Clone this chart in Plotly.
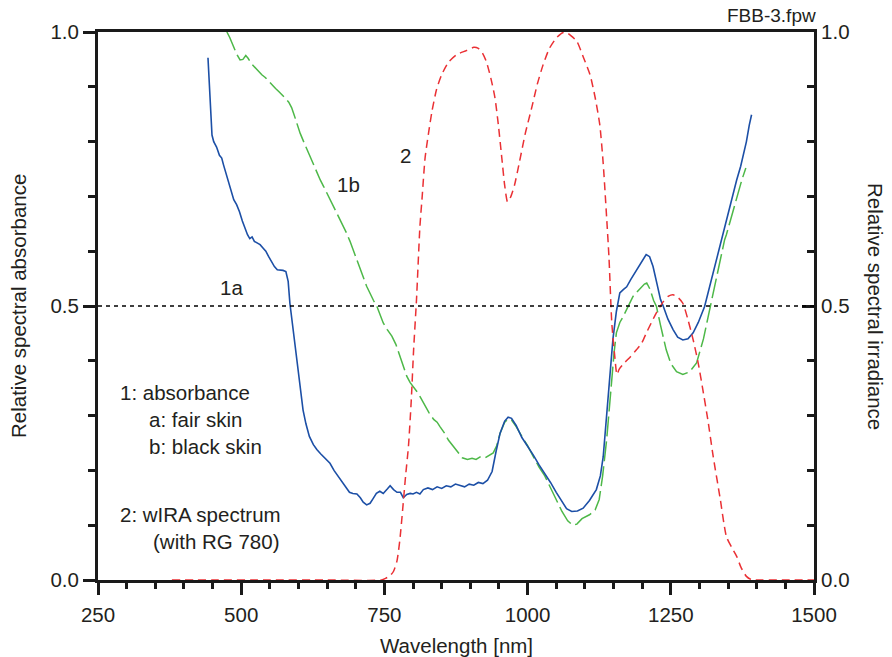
import plotly.graph_objects as go

# ---- data ----
wl_1a = [442, 446, 449, 452, 457, 462, 466, 469, 474, 478, 483, 487, 492, 497, 502, 507, 511, 515, 519, 523,
         528, 533, 538, 543, 548, 553, 558, 563, 568, 573, 578, 582, 585, 589, 593, 597, 602, 608, 613, 619,
         626, 632, 639, 646, 655, 662, 670, 680, 689, 695, 702, 708, 713, 719, 725, 730, 736, 742, 748, 755,
         760, 766, 772, 778, 783, 789, 795, 800, 806, 812, 818, 826, 834, 842, 850, 858, 866, 874, 882, 890,
         898, 906, 914, 922, 930, 938, 945, 952, 960, 966, 972, 980, 990, 1000, 1010, 1020, 1030, 1040, 1050, 1060,
         1068, 1077, 1087, 1097, 1108, 1120, 1127, 1132, 1137, 1141, 1145, 1149, 1155, 1161, 1167, 1173, 1180, 1190, 1200, 1207,
         1213, 1219, 1226, 1232, 1237, 1245, 1254, 1262, 1271, 1280, 1289, 1298, 1309, 1320, 1330, 1338, 1345, 1355, 1365, 1372,
         1376, 1382, 1387, 1391]
abs_1a = [0.953, 0.88, 0.812, 0.800, 0.790, 0.775, 0.770, 0.758, 0.740, 0.725, 0.705, 0.694, 0.685, 0.672, 0.655, 0.640, 0.630, 0.623, 0.626, 0.618,
          0.615, 0.612, 0.606, 0.600, 0.590, 0.580, 0.572, 0.566, 0.566, 0.565, 0.563, 0.545, 0.505, 0.470, 0.435, 0.396, 0.352, 0.310, 0.285, 0.262,
          0.247, 0.238, 0.230, 0.222, 0.213, 0.200, 0.188, 0.175, 0.160, 0.158, 0.157, 0.150, 0.142, 0.137, 0.140, 0.148, 0.158, 0.162, 0.158, 0.166,
          0.172, 0.165, 0.160, 0.160, 0.150, 0.156, 0.158, 0.157, 0.160, 0.157, 0.165, 0.168, 0.165, 0.170, 0.167, 0.172, 0.170, 0.175, 0.172, 0.170,
          0.175, 0.173, 0.178, 0.176, 0.182, 0.198, 0.235, 0.268, 0.290, 0.297, 0.295, 0.282, 0.260, 0.245, 0.228, 0.210, 0.195, 0.178, 0.160, 0.143,
          0.130, 0.125, 0.126, 0.131, 0.145, 0.165, 0.190, 0.225, 0.290, 0.347, 0.400, 0.440, 0.490, 0.524, 0.530, 0.535, 0.548, 0.566, 0.582, 0.594,
          0.590, 0.572, 0.540, 0.512, 0.499, 0.476, 0.457, 0.443, 0.438, 0.440, 0.451, 0.470, 0.499, 0.545, 0.585, 0.621, 0.650, 0.690, 0.730, 0.755,
          0.773, 0.800, 0.830, 0.849]

wl_1b = [475, 480, 486, 492, 498, 503, 508, 512, 518, 524, 530, 536, 542, 548, 554, 560, 566, 572, 578, 583,
         588, 592, 597, 603, 609, 615, 621, 627, 633, 638, 644, 650, 656, 661, 667, 673, 679, 684, 690, 696,
         702, 708, 714, 719, 725, 731, 737, 742, 748, 755, 763, 770, 777, 783, 789, 795, 801, 806, 812, 820,
         828, 836, 842, 847, 855, 862, 870, 878, 886, 895, 903, 910, 918, 926, 934, 940, 946, 952, 960, 966,
         972, 980, 990, 1000, 1010, 1020, 1030, 1039, 1050, 1060, 1070, 1079, 1086, 1095, 1108, 1118, 1125, 1131, 1138, 1143,
         1147, 1151, 1155, 1161, 1167, 1175, 1184, 1195, 1204, 1208, 1214, 1220, 1225, 1232, 1242, 1250, 1260, 1271, 1283, 1295,
         1307, 1319, 1331, 1344, 1347, 1355, 1365, 1374, 1381]
abs_1b = [1.0, 0.99, 0.975, 0.960, 0.949, 0.950, 0.957, 0.952, 0.942, 0.935, 0.930, 0.922, 0.917, 0.910, 0.903, 0.897, 0.891, 0.885, 0.878, 0.872,
          0.862, 0.850, 0.834, 0.815, 0.800, 0.785, 0.770, 0.757, 0.742, 0.730, 0.718, 0.705, 0.693, 0.682, 0.668, 0.655, 0.645, 0.633, 0.618, 0.600,
          0.584, 0.567, 0.550, 0.536, 0.522, 0.510, 0.499, 0.484, 0.469, 0.457, 0.445, 0.430, 0.410, 0.390, 0.372, 0.360, 0.352, 0.345, 0.335, 0.320,
          0.305, 0.293, 0.288, 0.280, 0.268, 0.255, 0.244, 0.232, 0.223, 0.220, 0.222, 0.220, 0.225, 0.223, 0.228, 0.232, 0.245, 0.268, 0.288, 0.294,
          0.292, 0.280, 0.262, 0.245, 0.225, 0.206, 0.190, 0.171, 0.145, 0.125, 0.108, 0.100, 0.102, 0.112, 0.119, 0.128, 0.147, 0.190, 0.256, 0.320,
          0.366, 0.415, 0.451, 0.470, 0.481, 0.497, 0.5175, 0.530, 0.540, 0.542, 0.530, 0.510, 0.499, 0.465, 0.420, 0.395, 0.380, 0.375, 0.380, 0.396,
          0.440, 0.499, 0.560, 0.621, 0.630, 0.660, 0.700, 0.730, 0.752]

wl_2 = [379, 450, 550, 650, 745, 752, 760, 766, 772, 777, 782, 787, 792, 797, 801, 806, 812, 816, 821, 827,
        833, 841, 850, 862, 876, 893, 906, 914, 921, 928, 936, 943, 949, 955, 960, 965, 970, 977, 986, 996,
        1007, 1017, 1027, 1038, 1050, 1062, 1068, 1076, 1086, 1097, 1109, 1118, 1126, 1132, 1138, 1142, 1147, 1152, 1156, 1160,
        1168, 1180, 1190, 1199, 1207, 1213, 1225, 1237, 1246, 1254, 1263, 1271, 1280, 1289, 1298, 1306, 1315, 1324, 1336, 1347,
        1356, 1365, 1373, 1382, 1390, 1395, 1450, 1500]
irr_2 = [0, 0, 0, 0, 0, 0.003, 0.008, 0.016, 0.035, 0.0735, 0.13, 0.19, 0.244, 0.33, 0.420, 0.511, 0.645, 0.700, 0.770, 0.815,
         0.855, 0.895, 0.922, 0.945, 0.9586, 0.966, 0.972, 0.970, 0.962, 0.946, 0.915, 0.880, 0.830, 0.770, 0.720, 0.690, 0.698, 0.720, 0.764, 0.815,
         0.861, 0.905, 0.940, 0.970, 0.989, 0.999, 0.999, 0.993, 0.983, 0.955, 0.922, 0.880, 0.831, 0.760, 0.661, 0.590, 0.469, 0.410, 0.375, 0.385,
         0.395, 0.408, 0.420, 0.432, 0.450, 0.463, 0.488, 0.508, 0.518, 0.5206, 0.515, 0.505, 0.475, 0.4385, 0.395, 0.347, 0.290, 0.2255, 0.150, 0.0796,
         0.060, 0.043, 0.022, 0.0066, 0.001, 0, 0, 0]

x_ticks = [250, 500, 750, 1000, 1250, 1500]
y_ticks = [0.0, 0.5, 1.0]
y_ticklabels = ["0.0", "0.5", "1.0"]

FONT = "Liberation Sans, Arial, Helvetica, sans-serif"
TXT = "#231f20"
FS = 20.5

fig = go.Figure()
fig.add_trace(go.Scatter(x=wl_1b, y=abs_1b, mode="lines",
                         line=dict(color="#4db848", width=1.5, dash="20px,5px")))
fig.add_trace(go.Scatter(x=wl_1a, y=abs_1a, mode="lines",
                         line=dict(color="#1c4fa6", width=1.6)))
fig.add_trace(go.Scatter(x=wl_2, y=irr_2, mode="lines", yaxis="y2",
                         line=dict(color="#ea3034", width=1.5, dash="8px,5px", shape="spline", smoothing=0.6)))

fig.add_shape(type="line", xref="paper", yref="y", x0=0, x1=1, y0=0.5, y1=0.5,
              line=dict(color="black", width=1.3, dash="4px,4px"))

axcommon = dict(showgrid=False, zeroline=False, showline=True, linecolor="#1a1a1a", linewidth=3,
                tickcolor="#1a1a1a", tickwidth=2.5, tickfont=dict(size=FS, color=TXT, family=FONT))

fig.update_layout(
    width=892, height=657,
    margin=dict(l=98, r=78, t=32, b=77),
    paper_bgcolor="white", plot_bgcolor="white",
    showlegend=False,
    font=dict(family=FONT, color=TXT, size=FS),
    xaxis=dict(range=[250, 1500], tickmode="array", tickvals=x_ticks,
               ticks="outside", ticklen=12, mirror=True,
               minor=dict(dtick=50, tick0=250, ticks="outside", ticklen=6, tickwidth=2.5, tickcolor="#1a1a1a"),
               ticklabelstandoff=2,
               **axcommon),
    yaxis=dict(range=[0, 1], tickmode="array", tickvals=y_ticks, ticktext=y_ticklabels,
               ticks="outside", ticklen=12,
               minor=dict(dtick=0.1, tick0=0, ticks="outside", ticklen=7, tickwidth=2.5, tickcolor="#1a1a1a"),
               **axcommon),
    yaxis2=dict(range=[0, 1], overlaying="y", side="right", tickmode="array", tickvals=y_ticks,
                ticktext=y_ticklabels, ticks="inside", ticklen=12,
                minor=dict(dtick=0.1, tick0=0, ticks="inside", ticklen=7, tickwidth=2.5, tickcolor="#1a1a1a"),
                **axcommon),
)

ann = []
def txt(x, y, s, xanchor="left", xref="x", yref="y", size=FS, **kw):
    ann.append(dict(x=x, y=y, xref=xref, yref=yref, text=s, showarrow=False, xanchor=xanchor,
                    yanchor="middle", font=dict(size=size, color=TXT, family=FONT), **kw))

txt(483, 0.533, "1a", xanchor="center")
txt(687, 0.722, "1b", xanchor="center")
txt(786, 0.774, "2", xanchor="center")
txt(285.6, 0.342, "1: absorbance")
txt(336, 0.2925, "a: fair skin")
txt(336, 0.243, "b: black skin")
txt(285.6, 0.119, "2: wIRA spectrum")
txt(343, 0.070, "(with RG 780)")
txt(1.005, 1.031, "FBB-3.fpw", xanchor="right", xref="paper", yref="paper", size=19)
txt(0.5, -0.119, "Wavelength [nm]", xanchor="center", xref="paper", yref="paper")
txt(-0.1117, 0.5, "Relative spectral absorbance", xanchor="center", xref="paper", yref="paper", textangle=-90)
txt(1.0866, 0.5, "Relative spectral irradiance", xanchor="center", xref="paper", yref="paper", textangle=90)
fig.update_layout(annotations=ann)

fig.write_html("out.html")
